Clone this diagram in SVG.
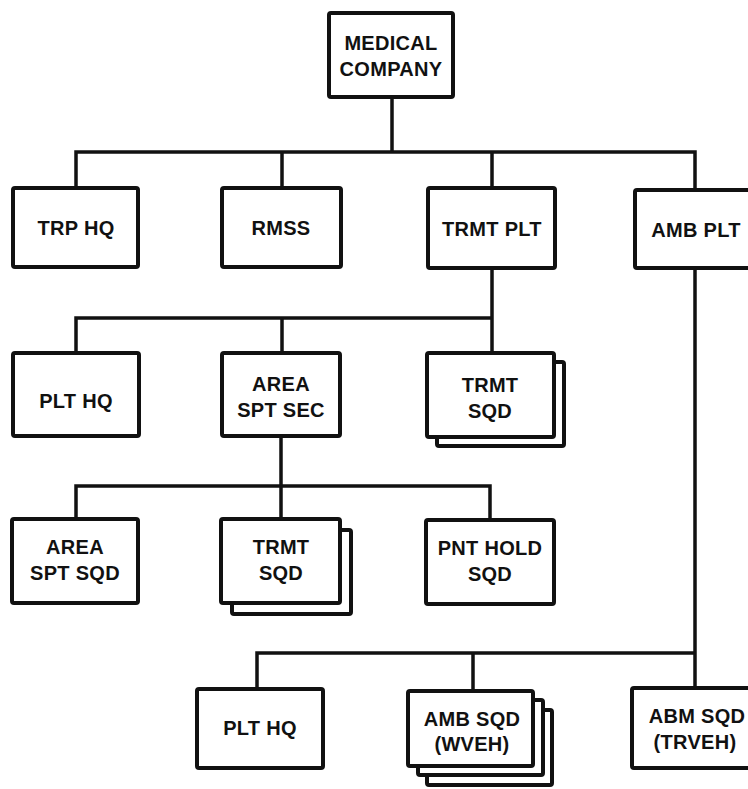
<svg xmlns="http://www.w3.org/2000/svg" width="748" height="789" viewBox="0 0 748 789">
<style>
.box{fill:#fff;stroke:#111;stroke-width:4;stroke-linejoin:round}
.con{fill:none;stroke:#111;stroke-width:3.5;stroke-linejoin:miter;stroke-linecap:square}
text{font-family:"Liberation Sans",Arial,sans-serif;font-weight:bold;font-size:20px;fill:#111;text-anchor:middle;letter-spacing:0.3px}
</style>
<rect width="748" height="789" fill="#fff"/>
<g id="connectors">
<path class="con" d="M392 97V152M76 188V152H695V190M282 152V188M492 152V188"/>
<path class="con" d="M492 268V318M76 353V318H492V353M282 318V353"/>
<path class="con" d="M281 436V486M76 519V486H490V520M281 486V519"/>
<path class="con" d="M695 268V653M257 689V653H695V688M473 653V691"/>
</g>
<g id="medical-company">
<rect class="box" x="329" y="13" width="124" height="84" rx="2"/>
<text x="391" y="50">MEDICAL</text>
<text x="391" y="76">COMPANY</text>
</g>
<g id="trp-hq">
<rect class="box" x="13" y="188" width="125" height="79" rx="2"/>
<text x="76" y="235">TRP HQ</text>
</g>
<g id="rmss">
<rect class="box" x="222" y="188" width="119" height="79" rx="2"/>
<text x="281" y="235">RMSS</text>
</g>
<g id="trmt-plt">
<rect class="box" x="428" y="188" width="127" height="80" rx="2"/>
<text x="492" y="236">TRMT PLT</text>
</g>
<g id="amb-plt">
<rect class="box" x="635" y="190" width="127" height="78" rx="2"/>
<text x="696" y="237">AMB PLT</text>
</g>
<g id="plt-hq-1">
<rect class="box" x="13" y="353" width="126" height="83" rx="2"/>
<text x="76" y="408">PLT HQ</text>
</g>
<g id="area-spt-sec">
<rect class="box" x="222" y="353" width="118" height="83" rx="2"/>
<text x="281" y="391">AREA</text>
<text x="281" y="417">SPT SEC</text>
</g>
<g id="trmt-sqd-1">
<rect class="box" x="437" y="362" width="127" height="84" rx="2"/>
<rect class="box" x="427" y="353" width="127" height="84" rx="2"/>
<text x="490" y="392">TRMT</text>
<text x="490" y="418">SQD</text>
</g>
<g id="area-spt-sqd">
<rect class="box" x="12" y="519" width="126" height="84" rx="2"/>
<text x="75" y="554">AREA</text>
<text x="75" y="580">SPT SQD</text>
</g>
<g id="trmt-sqd-2">
<rect class="box" x="232" y="530" width="119" height="84" rx="2"/>
<rect class="box" x="221" y="519" width="119" height="84" rx="2"/>
<text x="281" y="554">TRMT</text>
<text x="281" y="580">SQD</text>
</g>
<g id="pnt-hold-sqd">
<rect class="box" x="426" y="520" width="128" height="84" rx="2"/>
<text x="490" y="555">PNT HOLD</text>
<text x="490" y="581">SQD</text>
</g>
<g id="plt-hq-2">
<rect class="box" x="197" y="689" width="126" height="79" rx="2"/>
<text x="260" y="735">PLT HQ</text>
</g>
<g id="amb-sqd-wveh">
<rect class="box" x="427" y="710" width="125" height="75" rx="2"/>
<rect class="box" x="418" y="700" width="125" height="75" rx="2"/>
<rect class="box" x="408" y="691" width="125" height="75" rx="2"/>
<text x="472" y="726">AMB SQD</text>
<text x="472" y="751">(WVEH)</text>
</g>
<g id="abm-sqd-trveh">
<rect class="box" x="632" y="688" width="130" height="80" rx="2"/>
<text x="697" y="723">ABM SQD</text>
<text x="695" y="749">(TRVEH)</text>
</g>
</svg>
